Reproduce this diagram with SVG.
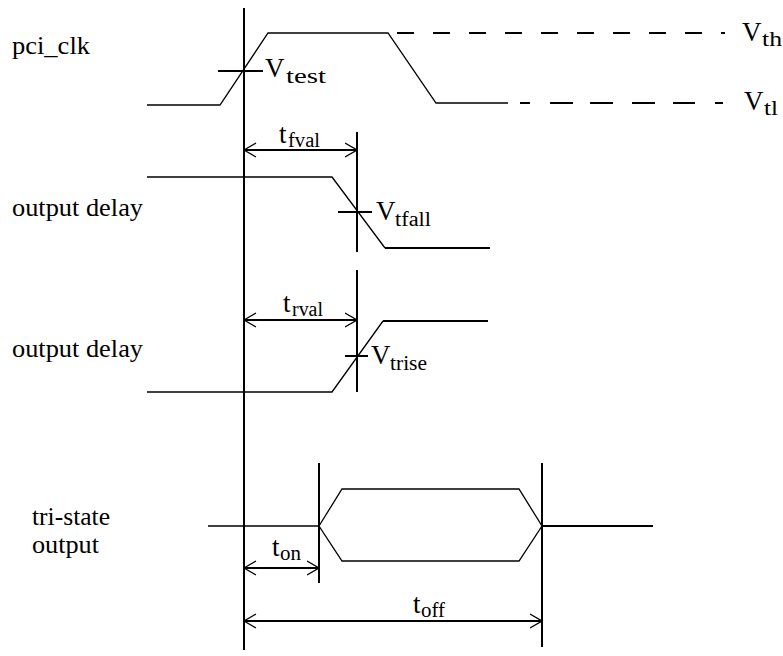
<svg xmlns="http://www.w3.org/2000/svg" width="783" height="656" viewBox="0 0 783 656">
<defs>
<style>
.lbl{font-family:"Liberation Serif","Times New Roman",Times,serif;font-size:25px;fill:#000}
.v{font-family:"Liberation Serif","Times New Roman",Times,serif;font-size:27px;fill:#000}
.sub{font-size:20px}
.thick{stroke:#000;stroke-width:2;fill:none}
.thin{stroke:#000;stroke-width:1.3;fill:none}
.dim{stroke:#000;stroke-width:2;fill:none;marker-start:url(#ah);marker-end:url(#ah)}
</style>
<marker id="ah" viewBox="0 0 13 16" refX="12.5" refY="8" markerWidth="13" markerHeight="16" markerUnits="userSpaceOnUse" orient="auto-start-reverse">
<path d="M0.5,1 L12.5,8 L0.5,15" fill="none" stroke="#000" stroke-width="1.3"/>
</marker>
</defs>
<rect width="783" height="656" fill="#fff"/>

<g id="labels">
<text class="lbl" x="12" y="54" textLength="78" lengthAdjust="spacingAndGlyphs">pci_clk</text>
<text class="lbl" x="12" y="216" textLength="131" lengthAdjust="spacingAndGlyphs">output delay</text>
<text class="lbl" x="12" y="357" textLength="131" lengthAdjust="spacingAndGlyphs">output delay</text>
<text class="lbl" x="32" y="525" textLength="78" lengthAdjust="spacingAndGlyphs">tri-state</text>
<text class="lbl" x="32" y="553" textLength="67" lengthAdjust="spacingAndGlyphs">output</text>
</g>

<g id="reference-line">
<line class="thick" x1="244" y1="8" x2="244" y2="650"/>
</g>

<g id="pci_clk">
<polyline class="thin" points="147,105 220,105 268,33 388,33 436,103 508,103"/>
<line class="thick" x1="397" y1="33" x2="725" y2="33" stroke-dasharray="17 19"/>
<path class="thick" d="M520,103H530M550,103H573M590,103H613M632,103H655M673,103H695M715,103H723"/>
<line class="thick" x1="218" y1="71" x2="263" y2="71"/>
<text class="v" y="77"><tspan x="265">V</tspan><tspan class="sub" x="286" dy="6" textLength="40" lengthAdjust="spacingAndGlyphs">test</tspan></text>
<text class="v" y="41"><tspan x="742">V</tspan><tspan class="sub" x="762" dy="5" textLength="20" lengthAdjust="spacingAndGlyphs">th</tspan></text>
<text class="v" y="110"><tspan x="744">V</tspan><tspan class="sub" x="764" dy="5" textLength="14" lengthAdjust="spacingAndGlyphs">tl</tspan></text>
</g>

<g id="output-fall">
<polyline class="thin" points="147,177 332,177 385,248"/>
<line class="thick" x1="385" y1="248" x2="490" y2="248"/>
<line class="thick" x1="357" y1="132" x2="357" y2="252"/>
<line class="thick" x1="338" y1="212" x2="372" y2="212"/>
<text class="v" y="220"><tspan x="376">V</tspan><tspan class="sub" x="395" dy="6" textLength="36" lengthAdjust="spacingAndGlyphs">tfall</tspan></text>
</g>

<g id="output-rise">
<polyline class="thin" points="147,392 332,392 383,321"/>
<line class="thick" x1="383" y1="321" x2="488" y2="321"/>
<line class="thick" x1="357" y1="270" x2="357" y2="392"/>
<line class="thick" x1="345" y1="356" x2="368" y2="356"/>
<text class="v" y="364"><tspan x="371">V</tspan><tspan class="sub" x="390" dy="6" textLength="37" lengthAdjust="spacingAndGlyphs">trise</tspan></text>
</g>

<g id="tri-state">
<line class="thin" x1="208" y1="526" x2="319" y2="526"/>
<polygon class="thin" points="319,526 342,489 519,489 542,526 519,561 342,561"/>
<line class="thick" x1="542" y1="526" x2="653" y2="526"/>
<line class="thick" x1="319" y1="463" x2="319" y2="583"/>
<line class="thick" x1="542" y1="463" x2="542" y2="647"/>
</g>

<g id="connectors">
<line class="dim" x1="244" y1="150" x2="357" y2="150"/>
<line class="dim" x1="244" y1="320" x2="357" y2="320"/>
<line class="dim" x1="244" y1="568" x2="319" y2="568"/>
<line class="dim" x1="244" y1="621" x2="542" y2="621"/>
</g>

<g id="dim-labels">
<text class="v" y="143"><tspan x="279">t</tspan><tspan class="sub" x="288" dy="4" textLength="32" lengthAdjust="spacingAndGlyphs">fval</tspan></text>
<text class="v" y="312"><tspan x="283">t</tspan><tspan class="sub" x="292" dy="4" textLength="31" lengthAdjust="spacingAndGlyphs">rval</tspan></text>
<text class="v" y="556"><tspan x="272">t</tspan><tspan class="sub" x="280" dy="4" textLength="21" lengthAdjust="spacingAndGlyphs">on</tspan></text>
<text class="v" y="613"><tspan x="413">t</tspan><tspan class="sub" x="421" dy="4" textLength="24" lengthAdjust="spacingAndGlyphs">off</tspan></text>
</g>
</svg>
